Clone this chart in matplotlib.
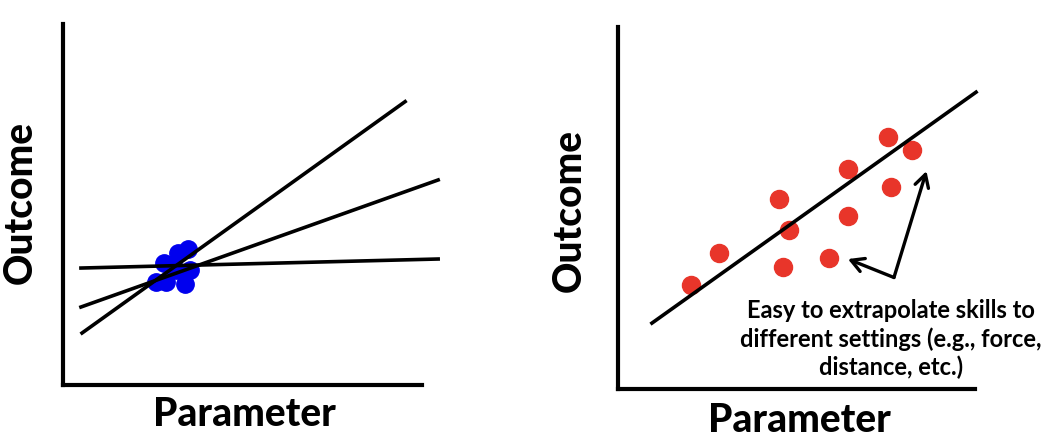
import matplotlib.pyplot as plt

# left panel: three fitted lines through a tight cluster
left_lines = [
    ([0.53, 9.53], [1.44, 7.85]),
    ([0.50, 10.45], [2.16, 5.68]),
    ([0.50, 10.45], [3.24, 3.49]),
]
blue_x = [2.58, 2.86, 2.81, 3.20, 3.47, 3.39, 3.53, 3.15, 3.00]
blue_y = [2.85, 2.85, 3.38, 3.66, 3.77, 2.80, 3.19, 3.19, 3.30]

# right panel: spread-out points with one fit line
red_x = [2.04, 2.83, 4.50, 4.79, 4.62, 5.92, 6.43, 6.43, 7.55, 8.24, 7.64]
red_y = [2.87, 3.76, 5.25, 4.39, 3.37, 3.62, 4.78, 6.08, 6.96, 6.60, 5.58]
right_line_x = [0.95, 10.03]
right_line_y = [1.82, 8.20]

arrow_vertex = (7.73, 3.08)
arrow_tips = [(6.44, 3.59), (8.64, 6.02)]
note = "Easy to extrapolate skills to\ndifferent settings (e.g., force,\ndistance, etc.)"

label_font = dict(family="Lato", fontweight="black", fontsize=28)

fig = plt.figure(figsize=(10.6, 4.42), dpi=100)
ax1 = fig.add_axes([63 / 1060, 57 / 442, 359 / 1060, 361 / 442])
ax2 = fig.add_axes([618 / 1060, 53 / 442, 357 / 1060, 362 / 442])

for ax in (ax1, ax2):
    ax.set_xlim(0, 10)
    ax.set_ylim(0, 10)
    for s in ("top", "right"):
        ax.spines[s].set_visible(False)
    for s in ("left", "bottom"):
        ax.spines[s].set_linewidth(3)
    ax.set_xticks([])
    ax.set_yticks([])

ax1.plot(blue_x, blue_y, "o", color="#0000ee", markersize=12.5, zorder=2)
for xs, ys in left_lines:
    ax1.plot(xs, ys, color="black", lw=2.6, clip_on=False, zorder=3)

ax2.plot(red_x, red_y, "o", color="#e8352a", markersize=13, zorder=2)
ax2.plot(right_line_x, right_line_y, color="black", lw=2.6, clip_on=False, zorder=3)
for tip in arrow_tips:
    ax2.annotate("", xy=tip, xytext=arrow_vertex,
                 arrowprops=dict(arrowstyle="->,head_length=0.9,head_width=0.5",
                                 lw=2.4, color="black", shrinkA=0, shrinkB=0))
ax2.text(7.65, 1.38, note, ha="center", va="center", family="Lato",
         fontweight="bold", fontsize=17, linespacing=1.25)

fig.text(20 / 1060, 1 - 203 / 442, "Outcome", rotation=90, ha="center", va="center", **label_font)
fig.text(569 / 1060, 1 - 210 / 442, "Outcome", rotation=90, ha="center", va="center", **label_font)
fig.text(244 / 1060, 1 - 415 / 442, "Parameter", ha="center", va="center", **label_font)
fig.text(799 / 1060, 1 - 420 / 442, "Parameter", ha="center", va="center", **label_font)

fig.savefig("out.png", dpi=100)
